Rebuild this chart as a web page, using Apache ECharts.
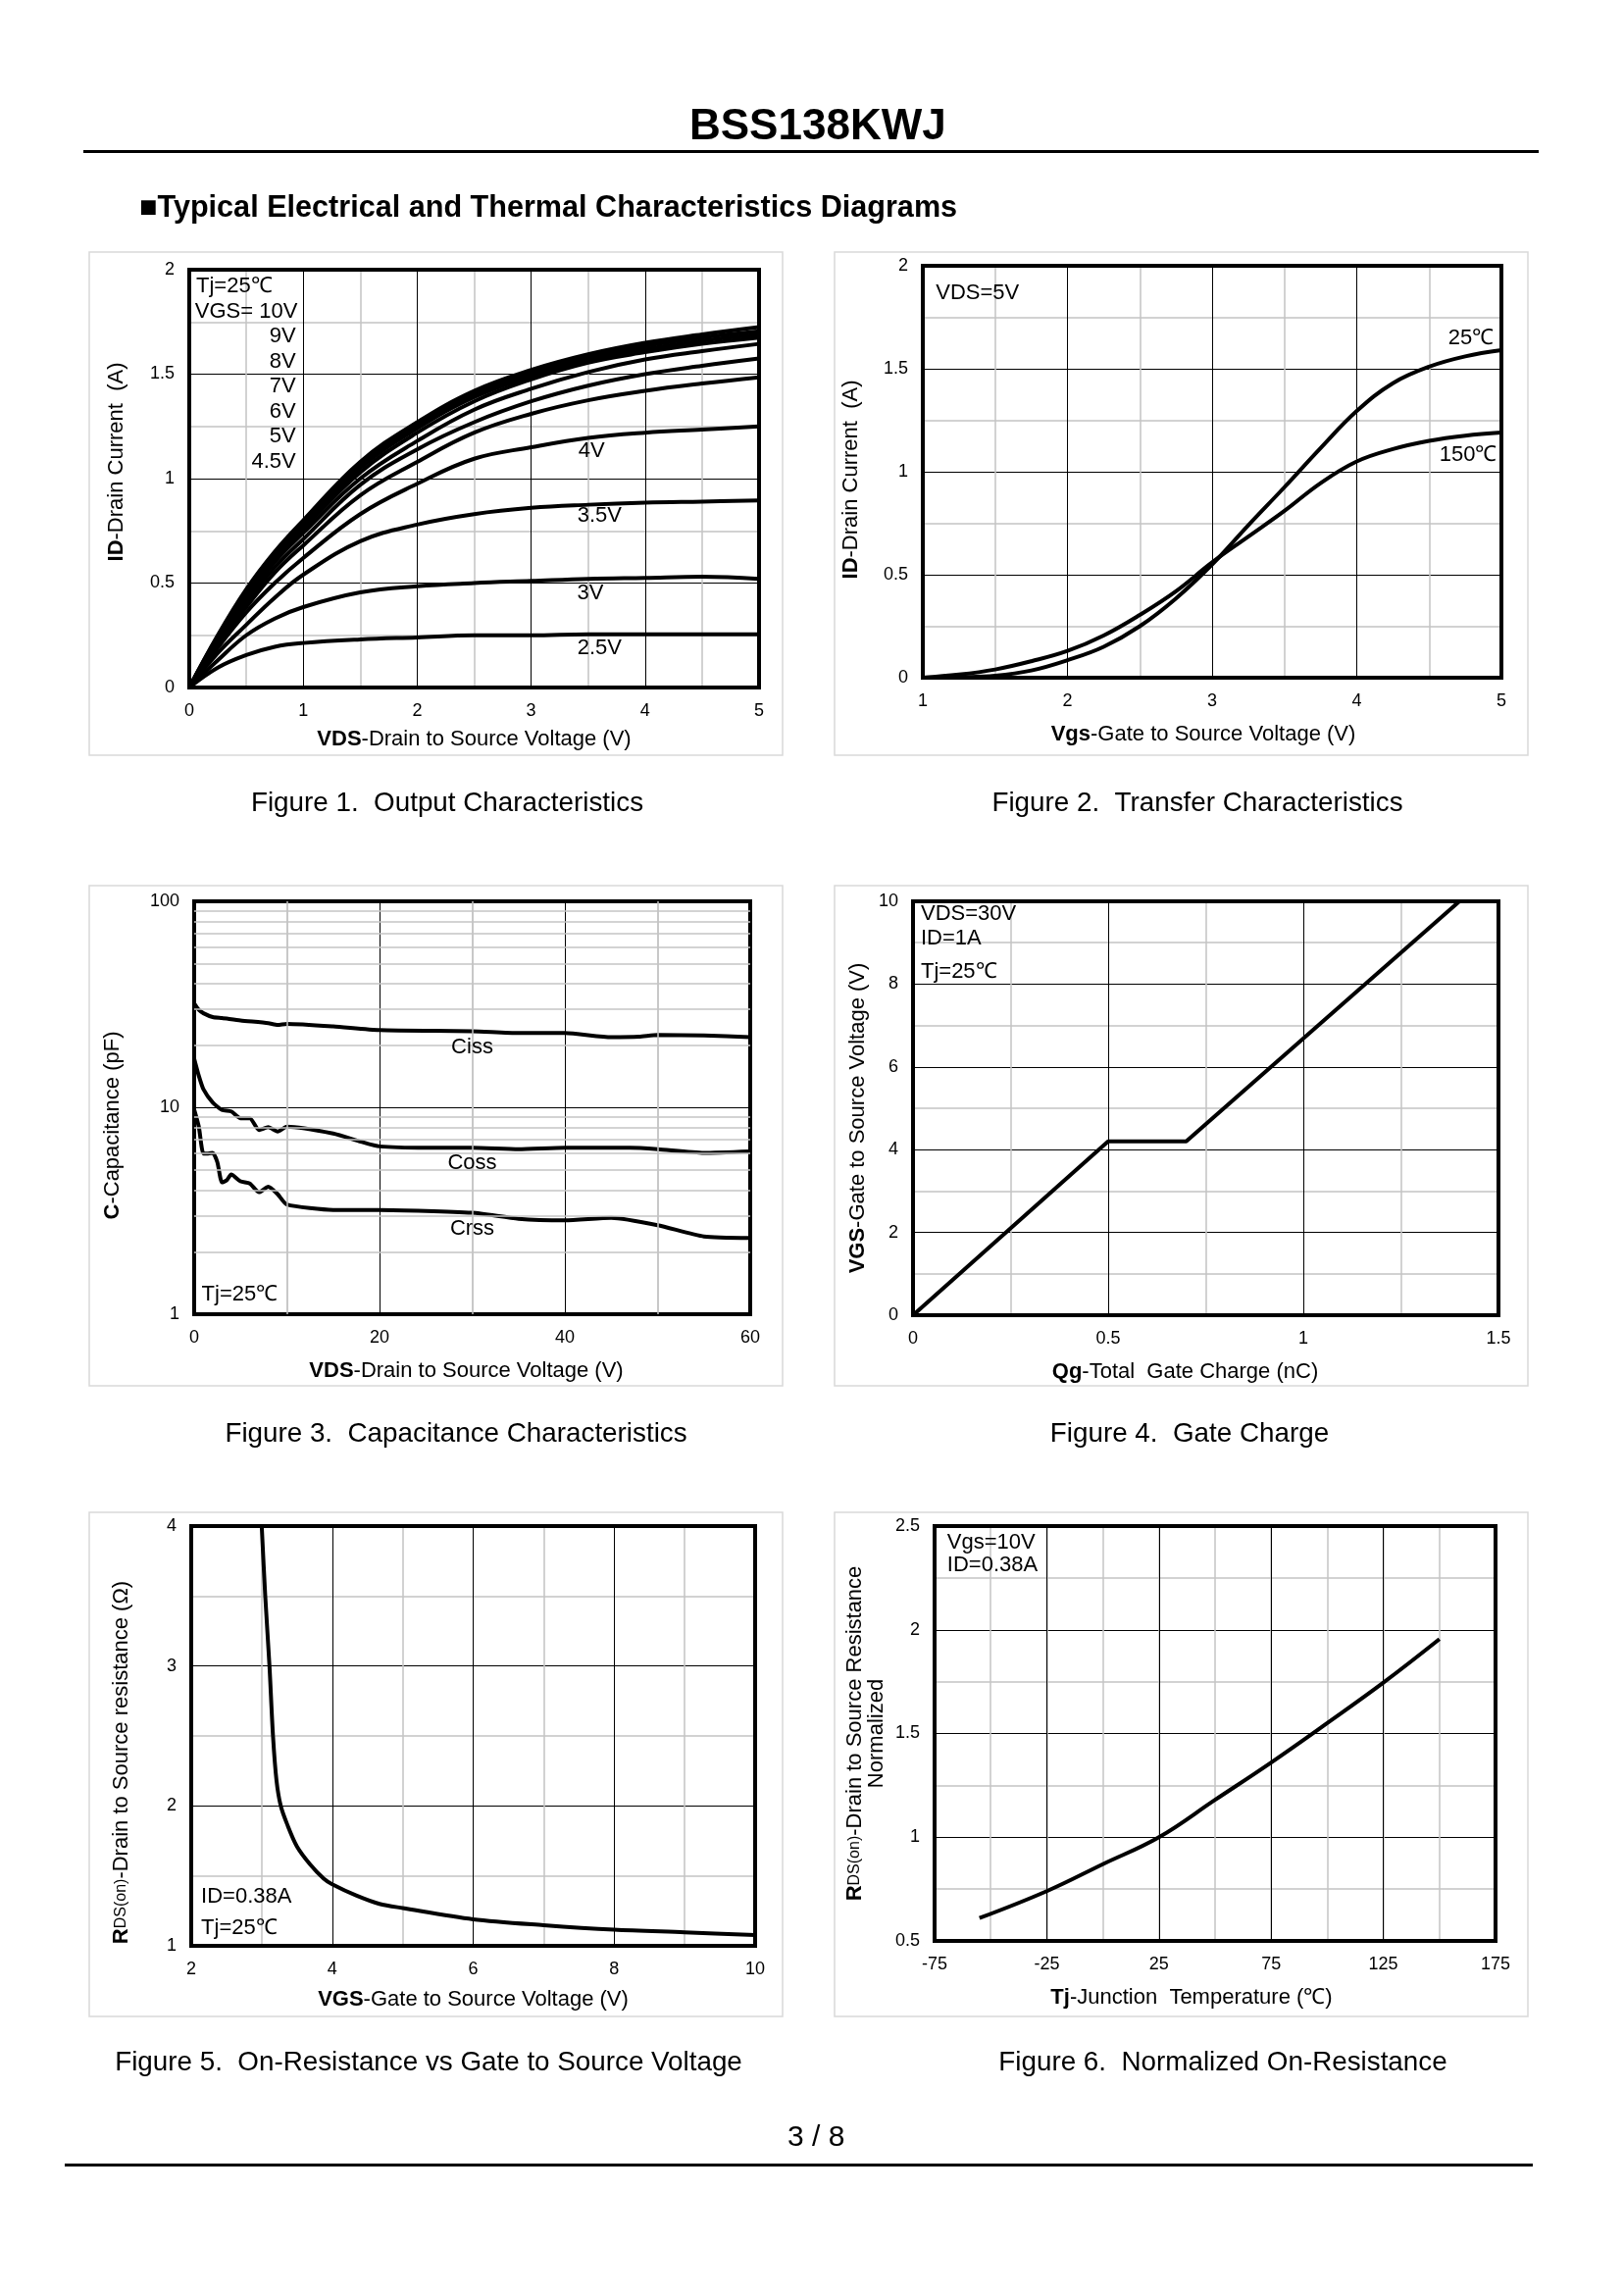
<!DOCTYPE html>
<html>
<head>
<meta charset="utf-8">
<style>html,body{margin:0;padding:0;background:#fff}</style>
<script src="https://cdn.jsdelivr.net/npm/echarts@6/dist/echarts.min.js"></script>
</head>
<body>
<div id="main" style="width:1656px;height:2339px"></div>
<script>
// figure 1 - output characteristics
const vdsOut = [0, 0.25, 0.5, 0.75, 1, 1.5, 2, 2.5, 3, 3.5, 4, 4.5, 5]
const id10V = [0, 0.25, 0.47, 0.65, 0.8, 1.08, 1.27, 1.42, 1.52, 1.595, 1.65, 1.69, 1.725]
const id9V = [0, 0.245, 0.46, 0.64, 0.785, 1.065, 1.255, 1.405, 1.505, 1.58, 1.635, 1.675, 1.705]
const id8V = [0, 0.24, 0.455, 0.635, 0.775, 1.05, 1.24, 1.39, 1.49, 1.57, 1.62, 1.66, 1.69]
const id7V = [0, 0.235, 0.44, 0.62, 0.76, 1.03, 1.22, 1.37, 1.475, 1.555, 1.605, 1.645, 1.675]
const id6V = [0, 0.225, 0.42, 0.6, 0.74, 1.0, 1.18, 1.33, 1.43, 1.51, 1.57, 1.61, 1.645]
const id5V = [0, 0.215, 0.405, 0.575, 0.71, 0.97, 1.14, 1.27, 1.37, 1.445, 1.5, 1.54, 1.575]
const id45V = [0, 0.205, 0.385, 0.55, 0.68, 0.92, 1.08, 1.22, 1.31, 1.375, 1.42, 1.455, 1.485]
const id4V = [0, 0.19, 0.36, 0.5, 0.62, 0.83, 0.975, 1.095, 1.15, 1.195, 1.22, 1.235, 1.25]
const id35V = [0, 0.165, 0.3, 0.43, 0.54, 0.7, 0.78, 0.83, 0.86, 0.875, 0.885, 0.89, 0.895]
const id3V = [0, 0.13, 0.25, 0.33, 0.385, 0.455, 0.485, 0.5, 0.51, 0.52, 0.525, 0.53, 0.52]
const id25V = [0, 0.095, 0.155, 0.195, 0.213, 0.23, 0.24, 0.25, 0.25, 0.255, 0.255, 0.255, 0.255]

// figure 2 - transfer characteristics
const vgsTransfer = [1, 1.25, 1.5, 1.75, 2, 2.25, 2.5, 2.75, 3, 3.25, 3.5, 3.75, 4, 4.25, 4.5, 4.75, 5]
const id25C = [0, 0.003, 0.01, 0.035, 0.085, 0.15, 0.25, 0.385, 0.55, 0.74, 0.925, 1.115, 1.295, 1.43, 1.51, 1.56, 1.59]
const id150C = [0, 0.015, 0.04, 0.08, 0.13, 0.205, 0.305, 0.42, 0.56, 0.685, 0.81, 0.945, 1.05, 1.11, 1.15, 1.175, 1.19]

// figure 3 - capacitance
const vdsCiss = [0, 0.5, 1, 2, 3, 5, 8, 9, 10, 15, 20, 30, 35, 40, 45, 48, 50, 55, 60]
const ciss = [32, 29.8, 28.7, 27.5, 27.2, 26.5, 25.7, 25.2, 25.5, 24.8, 23.8, 23.5, 23, 23, 22, 22.1, 22.5, 22.4, 22]
const vdsCoss = [0, 0.5, 1, 2, 3, 4, 5, 6, 7, 8, 9, 10, 15, 18, 20, 25, 30, 35, 40, 47, 50, 55, 60]
const coss = [17.3, 14.3, 12.3, 10.6, 9.75, 9.6, 8.9, 8.9, 7.8, 8.05, 7.67, 8.1, 7.5, 6.85, 6.5, 6.4, 6.4, 6.3, 6.4, 6.4, 6.3, 6.05, 6.15]
const vdsCrss = [0, 0.5, 1, 1.5, 2, 2.5, 3, 3.5, 4, 5, 6, 7, 8, 9, 10, 15, 20, 30, 35, 40, 45, 50, 55, 60]
const crss = [9.8, 8.1, 6, 6, 6.05, 5.45, 4.35, 4.45, 4.75, 4.4, 4.3, 3.9, 4.15, 3.82, 3.4, 3.2, 3.2, 3.1, 2.9, 2.85, 2.93, 2.7, 2.38, 2.34]
const capMinorLines = [2, 3, 4, 5, 6, 7, 8, 9, 20, 30, 40, 50, 60, 70, 80, 90]

// figure 4 - gate charge
const qg = [0, 0.5, 0.7, 1.4]
const vgsCharge = [0, 4.2, 4.2, 10]

// figure 5 - on-resistance vs vgs
const vgsRds = [3, 3.05, 3.11, 3.16, 3.21, 3.27, 3.36, 3.5, 3.69, 3.88, 4, 4.34, 4.67, 5, 6, 7, 8, 9, 10]
const rds = [4, 3.5, 3, 2.5, 2.18, 2, 1.87, 1.71, 1.58, 1.48, 1.44, 1.36, 1.3, 1.27, 1.19, 1.148, 1.116, 1.097, 1.077]

// figure 6 - normalized on-resistance
const tj = [-55, -25, 0, 25, 50, 75, 100, 125, 150]
const rdsNorm = [0.61, 0.74, 0.87, 1, 1.18, 1.36, 1.55, 1.745, 1.955]
const tjMajorLines = [-25, 25, 75, 125]
const tjLabels = [-75, -25, 25, 75, 125, 175]

const captions = [
  "Figure 1.  Output Characteristics",
  "Figure 2.  Transfer Characteristics",
  "Figure 3.  Capacitance Characteristics",
  "Figure 4.  Gate Charge",
  "Figure 5.  On-Resistance vs Gate to Source Voltage",
  "Figure 6.  Normalized On-Resistance",
]

const FONT = "Liberation Sans"

// pixel layout of each figure
const layouts = [
  { panel: [91, 257, 707, 513], grid: [193, 275, 581, 426], cap: [456, 819] },
  { panel: [851, 257, 707, 513], grid: [941, 271, 590, 420], cap: [1221, 819] },
  { panel: [91, 903, 707, 510], grid: [198, 919, 567, 421], cap: [465, 1462] },
  { panel: [851, 903, 707, 510], grid: [931, 919, 597, 422], cap: [1213, 1462] },
  { panel: [91, 1542, 707, 514], grid: [195, 1556, 575, 428], cap: [437, 2103] },
  { panel: [851, 1542, 707, 514], grid: [953, 1556, 572, 423], cap: [1247, 2103] },
]

const richName = {
  b: { fontFamily: FONT, fontSize: 22, fontWeight: "bold", color: "#000" },
  s: { fontFamily: FONT, fontSize: 16, color: "#000" },
}

const makeAxis = (gridIndex, opts, name, nameGap, padding) => ({
  type: "value",
  gridIndex,
  name,
  nameLocation: "middle",
  nameGap,
  nameTextStyle: { fontFamily: FONT, fontSize: 22, color: "#000", rich: richName, padding: padding || 0 },
  axisLine: { show: false },
  axisTick: { show: false },
  axisLabel: { fontFamily: FONT, fontSize: 18, color: "#000", margin: 15, showMinLabel: true, showMaxLabel: true },
  splitLine: { show: true, lineStyle: { color: "#000", width: 1 } },
  minorTick: { show: false, splitNumber: 2 },
  minorSplitLine: { show: true, lineStyle: { color: "#c4c4c4", width: 1.5 } },
  ...opts,
})

const curve = (index, xs, ys, smooth = 0.4) => ({
  type: "line",
  xAxisIndex: index,
  yAxisIndex: index,
  data: xs.map((x, i) => [x, ys[i]]),
  showSymbol: false,
  smooth,
  z: 3,
  lineStyle: { color: "#000", width: 4 },
})

// helper series for grid lines the axis can't do by itself
const extraLines = (index, dim, values, color, width) => ({
  type: "line",
  xAxisIndex: index,
  yAxisIndex: index,
  data: [],
  z: 1,
  markLine: {
    silent: true,
    symbol: "none",
    animation: false,
    label: { show: false },
    lineStyle: { color, width, type: "solid" },
    data: values.map(v => ({ [dim]: v })),
  },
})

const notes = (index, items) => ({
  type: "scatter",
  xAxisIndex: index,
  yAxisIndex: index,
  symbolSize: 1,
  itemStyle: { color: "transparent", opacity: 1 },
  z: 5,
  data: items.map(([x, y, text, align]) => ({
    value: [x, y],
    label: {
      show: true,
      position: "inside",
      formatter: text,
      align: align || "left",
      verticalAlign: "middle",
      fontFamily: FONT,
      fontSize: 22,
      color: "#000",
    },
  })),
})

const xAxes = [
  makeAxis(0, { min: 0, max: 5, interval: 1 }, "{b|VDS}-Drain to Source Voltage (V)", 42),
  makeAxis(1, { min: 1, max: 5, interval: 1 }, "{b|Vgs}-Gate to Source Voltage (V)", 47, [0, 18, 0, 0]),
  makeAxis(2, { min: 0, max: 60, interval: 20 }, "{b|VDS}-Drain to Source Voltage (V)", 47, [0, 12, 0, 0]),
  makeAxis(3, { min: 0, max: 1.5, interval: 0.5 }, "{b|Qg}-Total  Gate Charge (nC)", 47, [0, 42, 0, 0]),
  makeAxis(4, { min: 2, max: 10, interval: 2 }, "{b|VGS}-Gate to Source Voltage (V)", 44),
  makeAxis(5, {
    min: -75,
    max: 175,
    interval: 25,
    minorSplitLine: { show: false },
    splitLine: { show: true, lineStyle: { color: "#c4c4c4", width: 1.5 } },
    axisLabel: {
      fontFamily: FONT,
      fontSize: 18,
      color: "#000",
      margin: 15,
      formatter: v => (tjLabels.includes(v) ? String(v) : ""),
    },
  }, "{b|Tj}-Junction  Temperature (℃)", 47, [0, 48, 0, 0]),
]

const yAxes = [
  makeAxis(0, { min: 0, max: 2, interval: 0.5 }, "{b|ID}-Drain Current  (A)", 63, [0, 0, 0, 34]),
  makeAxis(1, { min: 0, max: 2, interval: 0.5 }, "{b|ID}-Drain Current  (A)", 62, [0, 16, 0, 0]),
  makeAxis(2, { type: "log", logBase: 10, min: 1, max: 100, minorSplitLine: { show: false } }, "{b|C}-Capacitance (pF)", 72, [0, 36, 0, 0]),
  makeAxis(3, { min: 0, max: 10, interval: 2 }, "{b|VGS}-Gate to Source Voltage (V)", 45, [0, 20, 0, 0]),
  makeAxis(4, { min: 1, max: 4, interval: 1 }, "{b|R}{s|DS(on)}-Drain to Source resistance (Ω)", 60, [0, 54, 0, 0]),
  makeAxis(5, { min: 0.5, max: 2.5, interval: 0.5 }, "{b|R}{s|DS(on)}-Drain to Source Resistance\nNormalized", 48),
]

const series = [
  curve(0, vdsOut, id25V),
  curve(0, vdsOut, id3V),
  curve(0, vdsOut, id35V),
  curve(0, vdsOut, id4V),
  curve(0, vdsOut, id45V),
  curve(0, vdsOut, id5V),
  curve(0, vdsOut, id6V),
  curve(0, vdsOut, id7V),
  curve(0, vdsOut, id8V),
  curve(0, vdsOut, id9V),
  curve(0, vdsOut, id10V),
  notes(0, [
    [0.06, 1.92, "Tj=25℃"],
    [0.05, 1.8, "VGS= 10V"],
    [0.935, 1.68, "9V", "right"],
    [0.935, 1.56, "8V", "right"],
    [0.935, 1.44, "7V", "right"],
    [0.935, 1.32, "6V", "right"],
    [0.935, 1.2, "5V", "right"],
    [0.935, 1.08, "4.5V", "right"],
    [3.53, 1.13, "4V", "center"],
    [3.6, 0.82, "3.5V", "center"],
    [3.52, 0.45, "3V", "center"],
    [3.6, 0.19, "2.5V", "center"],
  ]),
  curve(1, vgsTransfer, id25C),
  curve(1, vgsTransfer, id150C),
  notes(1, [
    [1.09, 1.865, "VDS=5V"],
    [4.79, 1.65, "25℃", "center"],
    [4.77, 1.08, "150℃", "center"],
  ]),
  extraLines(2, "yAxis", capMinorLines, "#c4c4c4", 1.5),
  extraLines(2, "xAxis", [10, 30, 50], "#c4c4c4", 1.5),
  curve(2, vdsCiss, ciss, 0.2),
  curve(2, vdsCoss, coss, 0.2),
  curve(2, vdsCrss, crss, 0.2),
  notes(2, [
    [30, 19.6, "Ciss", "center"],
    [30, 5.4, "Coss", "center"],
    [30, 2.6, "Crss", "center"],
    [0.8, 1.25, "Tj=25℃"],
  ]),
  curve(3, qg, vgsCharge, false),
  notes(3, [
    [0.02, 9.7, "VDS=30V"],
    [0.02, 9.1, "ID=1A"],
    [0.02, 8.29, "Tj=25℃"],
  ]),
  curve(4, vgsRds, rds, 0.3),
  notes(4, [
    [2.14, 1.35, "ID=0.38A"],
    [2.14, 1.13, "Tj=25℃"],
  ]),
  extraLines(5, "xAxis", tjMajorLines, "#000", 1),
  curve(5, tj, rdsNorm),
  notes(5, [
    [-69.4, 2.42, "Vgs=10V"],
    [-69.4, 2.31, "ID=0.38A"],
  ]),
]

const graphic = [
  { type: "text", left: 703, top: 108, style: { text: "BSS138KWJ", font: `bold 44px "${FONT}"`, fill: "#000" } },
  { type: "rect", shape: { x: 85, y: 153, width: 1484, height: 3 }, style: { fill: "#000" } },
  { type: "text", left: 142, top: 197, style: { text: "■Typical Electrical and Thermal Characteristics Diagrams", font: `bold 30.6px "${FONT}"`, fill: "#000" } },
  { type: "text", left: 803, top: 2165, style: { text: "3 / 8", font: `30px "${FONT}"`, fill: "#000" } },
  { type: "rect", shape: { x: 66, y: 2206, width: 1497, height: 3 }, style: { fill: "#000" } },
]
layouts.forEach((l, i) => {
  graphic.push({
    type: "rect",
    z: -1,
    shape: { x: l.panel[0], y: l.panel[1], width: l.panel[2], height: l.panel[3] },
    style: { fill: "#fff", stroke: "#d9d9d9", lineWidth: 1.5 },
  })
  graphic.push({
    type: "text",
    x: l.cap[0],
    y: l.cap[1],
    style: { text: captions[i], font: `27.8px "${FONT}"`, fill: "#000", align: "center", verticalAlign: "middle" },
  })
})

const chart = echarts.init(document.getElementById("main"))
chart.setOption({
  animation: false,
  backgroundColor: "#fff",
  graphic,
  grid: layouts.map(l => ({
    left: l.grid[0],
    top: l.grid[1],
    width: l.grid[2],
    height: l.grid[3],
    show: true,
    z: 2,
    borderColor: "#000",
    borderWidth: 4,
    backgroundColor: "transparent",
  })),
  xAxis: xAxes,
  yAxis: yAxes,
  series,
})
</script>
</body>
</html>
